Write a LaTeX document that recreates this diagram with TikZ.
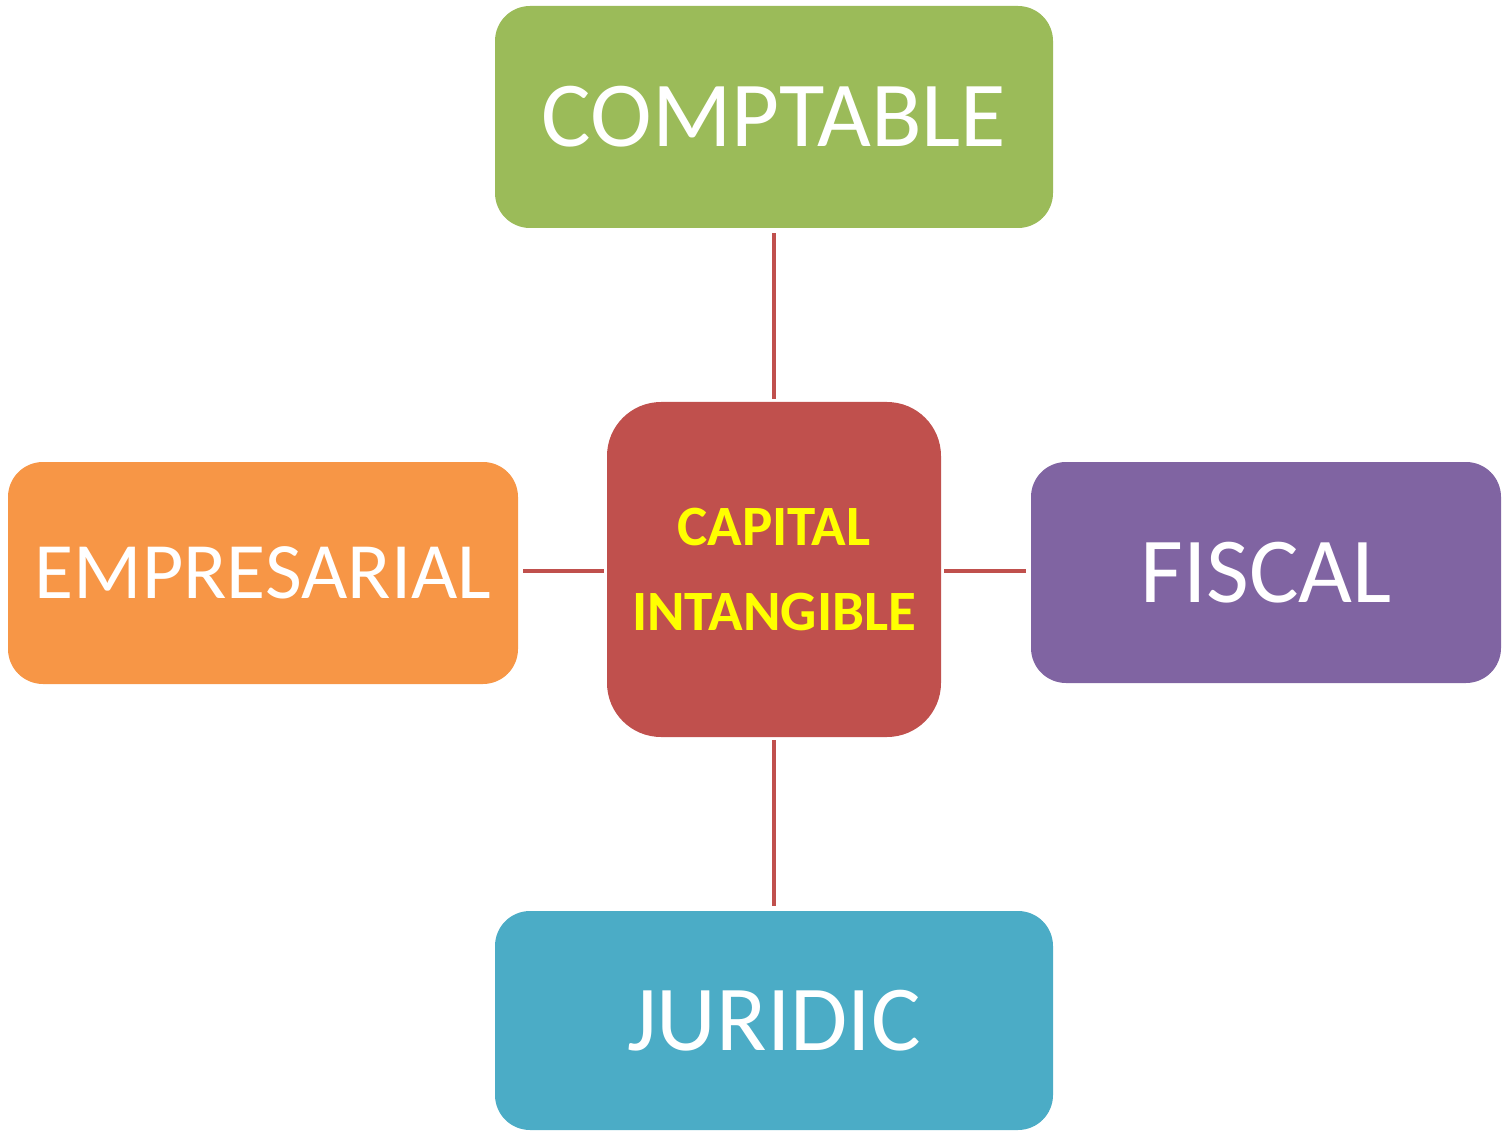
\documentclass[tikz,border=0pt]{standalone}
\usepackage{fontspec}
\setmainfont{Carlito}
\definecolor{cgreen}{HTML}{9BBB59}
\definecolor{corange}{HTML}{F79646}
\definecolor{cred}{HTML}{C0504D}
\definecolor{cpurple}{HTML}{8064A2}
\definecolor{cblue}{HTML}{4BACC6}
\definecolor{cyellow}{HTML}{FFFF00}
\tikzset{
  box/.style={rectangle, rounded corners=35pt, inner sep=0pt, text=white, align=center},
  conn/.style={draw=cred, line width=4.5pt, shorten <=3pt, shorten >=5pt},
}
\begin{document}
\begin{tikzpicture}[x=1pt,y=-1pt]
\useasboundingbox (0,0) rectangle (1502,1131);
\node[box, fill=cgreen, minimum width=558pt, minimum height=222pt, font=\fontsize{93}{100}\selectfont] (comp) at (774,117) {COMPTABLE};
\node[box, fill=corange, minimum width=510pt, minimum height=222pt, font=\fontsize{80}{90}\selectfont] (emp) at (263,573) {EMPRESARIAL};
\node[box, fill=cpurple, minimum width=470pt, minimum height=221pt, font=\fontsize{93}{100}\selectfont] (fisc) at (1266,572.5) {FISCAL};
\node[box, fill=cblue, minimum width=558pt, minimum height=219pt, font=\fontsize{93}{100}\selectfont] (jur) at (774,1020.5) {JURIDIC};
\node[box, rounded corners=54pt, fill=cred, text=cyellow, minimum width=334pt, minimum height=335pt, font=\bfseries\fontsize{57}{85}\selectfont] (cap) at (774,569.5) {CAPITAL\\INTANGIBLE};
\draw[conn] (cap) -- (comp);
\draw[conn] (cap) -- (jur);
\draw[conn] (cap.west |- 0,571) -- (emp.east |- 0,571);
\draw[conn] (cap.east |- 0,571) -- (fisc.west |- 0,571);
\end{tikzpicture}
\end{document}
